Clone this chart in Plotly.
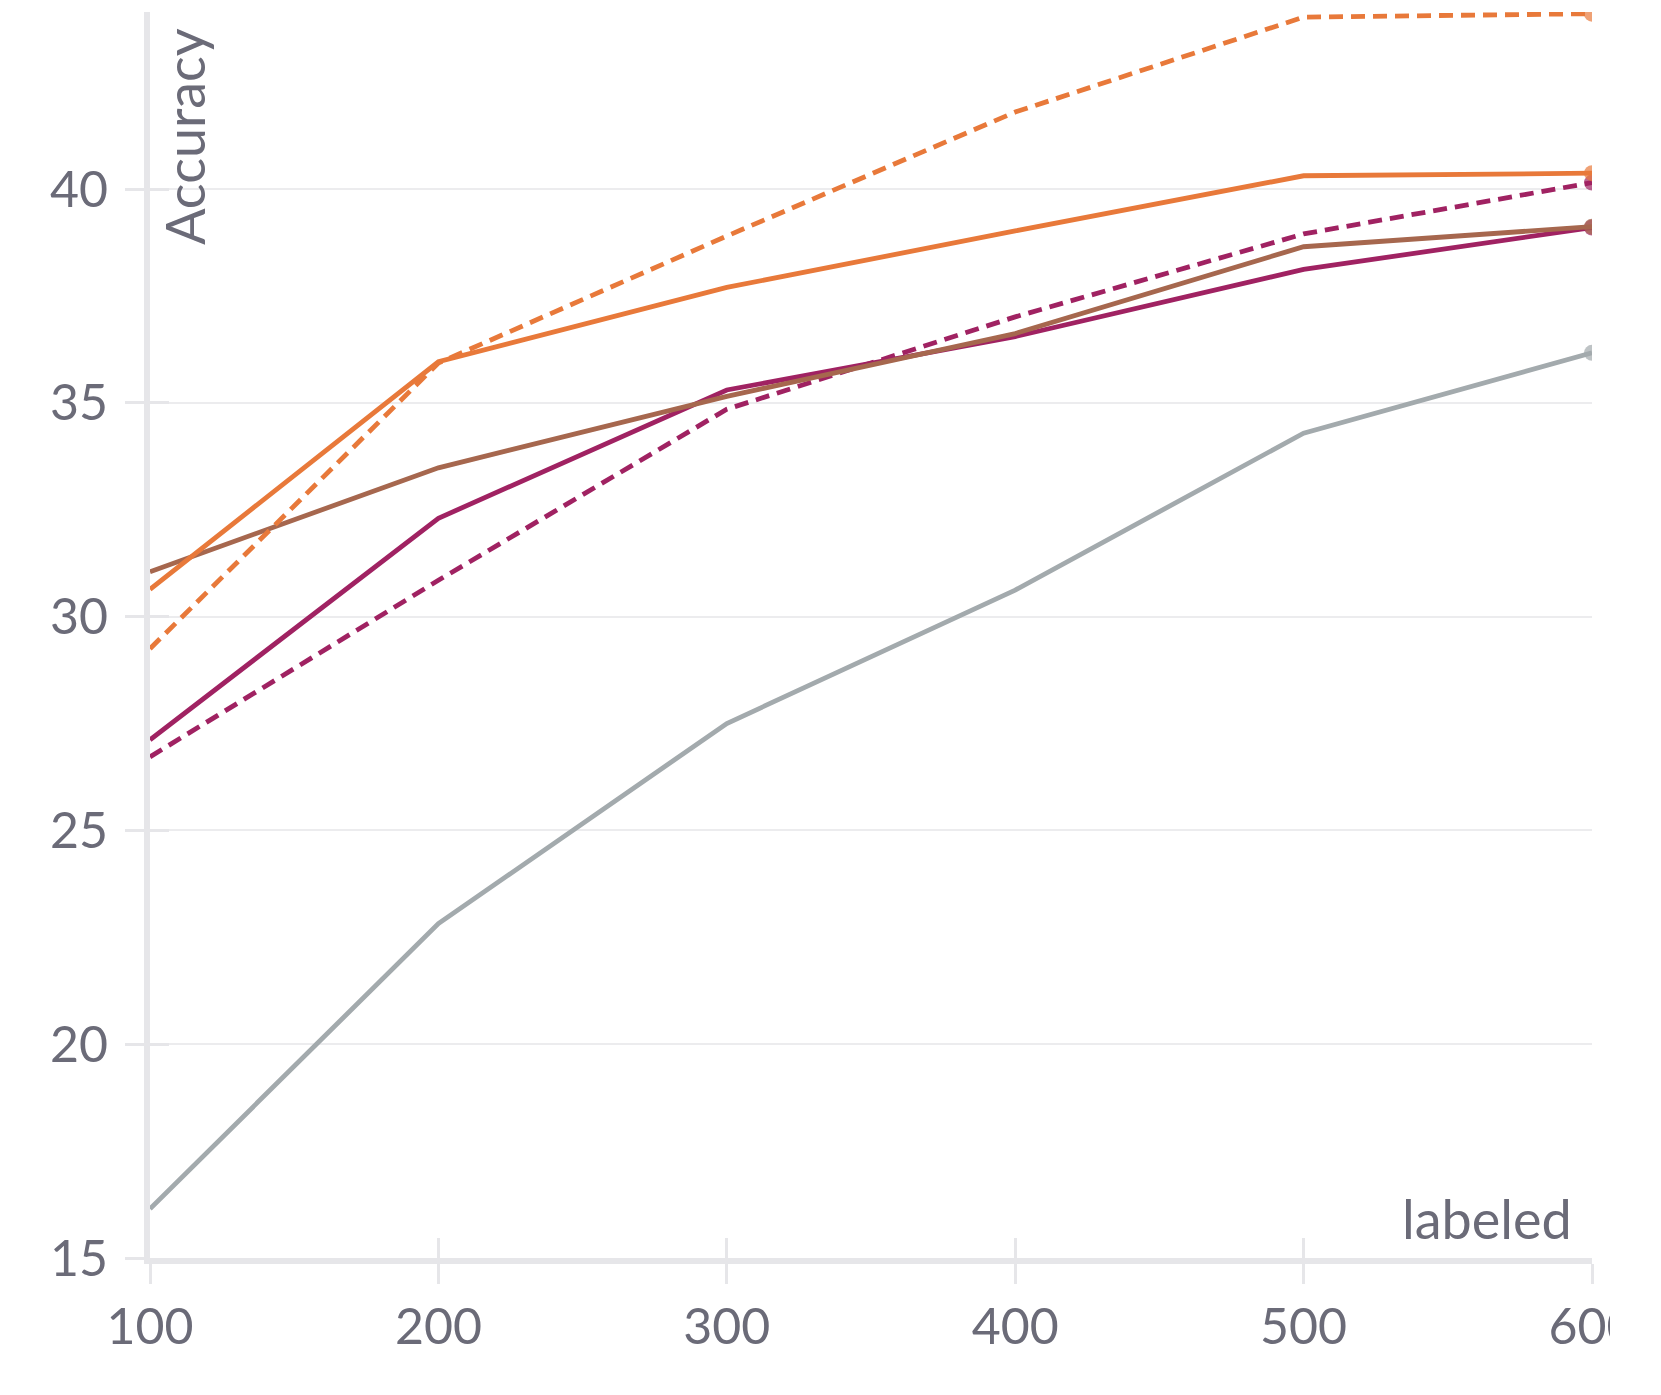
import plotly.graph_objects as go

labeled = [100, 200, 300, 400, 500, 600]

grey_solid = [16.15, 22.82, 27.5, 30.62, 34.29, 36.17]
purple_dashed = [26.72, 30.85, 34.85, 37.01, 38.95, 40.15]
purple_solid = [27.12, 32.30, 35.30, 36.55, 38.12, 39.10]
brown_solid = [31.05, 33.48, 35.15, 36.62, 38.65, 39.12]
orange_dashed = [29.25, 35.93, 38.9, 41.8, 44.02, 44.1]
orange_solid = [30.64, 35.96, 37.70, 39.02, 40.31, 40.37]

y_ticks = [15, 20, 25, 30, 35, 40]
x_ticks = [100, 200, 300, 400, 500, 600]

ORANGE = "#e8793a"
BROWN = "#a6674e"
PURPLE = "#a02262"
GREY = "#a3aaad"
TEXT = "#6b6b78"
AXIS = "#e6e6e9"
GRID = "#ececee"
FONT = "Lato"
DASH = "14px,8px"

series = [
    ("grey", grey_solid, GREY, "solid"),
    ("purple dashed", purple_dashed, PURPLE, DASH),
    ("purple", purple_solid, PURPLE, "solid"),
    ("brown", brown_solid, BROWN, "solid"),
    ("orange dashed", orange_dashed, ORANGE, DASH),
    ("orange", orange_solid, ORANGE, "solid"),
]

fig = go.Figure()
for name, ys, color, dash in series:
    sizes = [0] * (len(ys) - 1) + [16]
    fig.add_trace(go.Scatter(
        x=labeled, y=ys, name=name, mode="lines+markers",
        line=dict(color=color, width=4.8, dash=dash),
        marker=dict(color=color, size=sizes, line=dict(width=0)),
        cliponaxis=True, showlegend=False,
    ))

# invisible trace on overlay axes to show inner half of tick marks
fig.add_trace(go.Scatter(x=[labeled[0]], y=[y_ticks[0]], xaxis="x2", yaxis="y2",
                         mode="markers", marker=dict(opacity=0), showlegend=False,
                         hoverinfo="skip"))

yr = [15, 44.14]
xr = [100, 600]

fig.update_layout(
    width=1602, height=1387,
    margin=dict(l=142, r=18, t=4, b=137, autoexpand=False),
    paper_bgcolor="white", plot_bgcolor="white",
    font=dict(family=FONT, color=TEXT, size=50),
    xaxis=dict(range=xr, tickvals=x_ticks, ticktext=[str(v) for v in x_ticks],
               showgrid=False, zeroline=False, showline=True, linecolor=AXIS,
               linewidth=6, ticks="outside", ticklen=20, tickwidth=3, tickcolor=AXIS,
               ticklabeloverflow="allow", automargin=False,
               tickfont=dict(size=50, color=TEXT, family=FONT)),
    yaxis=dict(range=yr, tickvals=y_ticks, ticktext=[str(v) for v in y_ticks],
               showgrid=True, gridcolor=GRID, gridwidth=2, zeroline=False,
               showline=True, linecolor=AXIS, linewidth=6, ticks="outside",
               ticklen=19, tickwidth=3, tickcolor=AXIS, ticklabelstandoff=7,
               automargin=False,
               tickfont=dict(size=50, color=TEXT, family=FONT)),
    xaxis2=dict(range=xr, overlaying="x", tickvals=x_ticks, showticklabels=False,
                showgrid=False, zeroline=False, showline=False, ticks="inside",
                ticklen=20, tickwidth=3, tickcolor=AXIS, automargin=False),
    yaxis2=dict(range=yr, overlaying="y", tickvals=y_ticks, showticklabels=False,
                showgrid=False, zeroline=False, showline=False, ticks="inside",
                ticklen=19, tickwidth=3, tickcolor=AXIS, automargin=False),
    annotations=[
        dict(text="Accuracy", xref="paper", yref="paper", x=0.0, y=1.0,
             xanchor="left", yanchor="top", xshift=0, yshift=-14, textangle=-90,
             showarrow=False, font=dict(size=54, color=TEXT, family=FONT)),
        dict(text="labeled", xref="paper", yref="paper", x=1.0, y=0.0,
             xanchor="right", yanchor="bottom", xshift=-18, yshift=5,
             showarrow=False, font=dict(size=54, color=TEXT, family=FONT)),
    ],
)

fig.write_html("out.html")
